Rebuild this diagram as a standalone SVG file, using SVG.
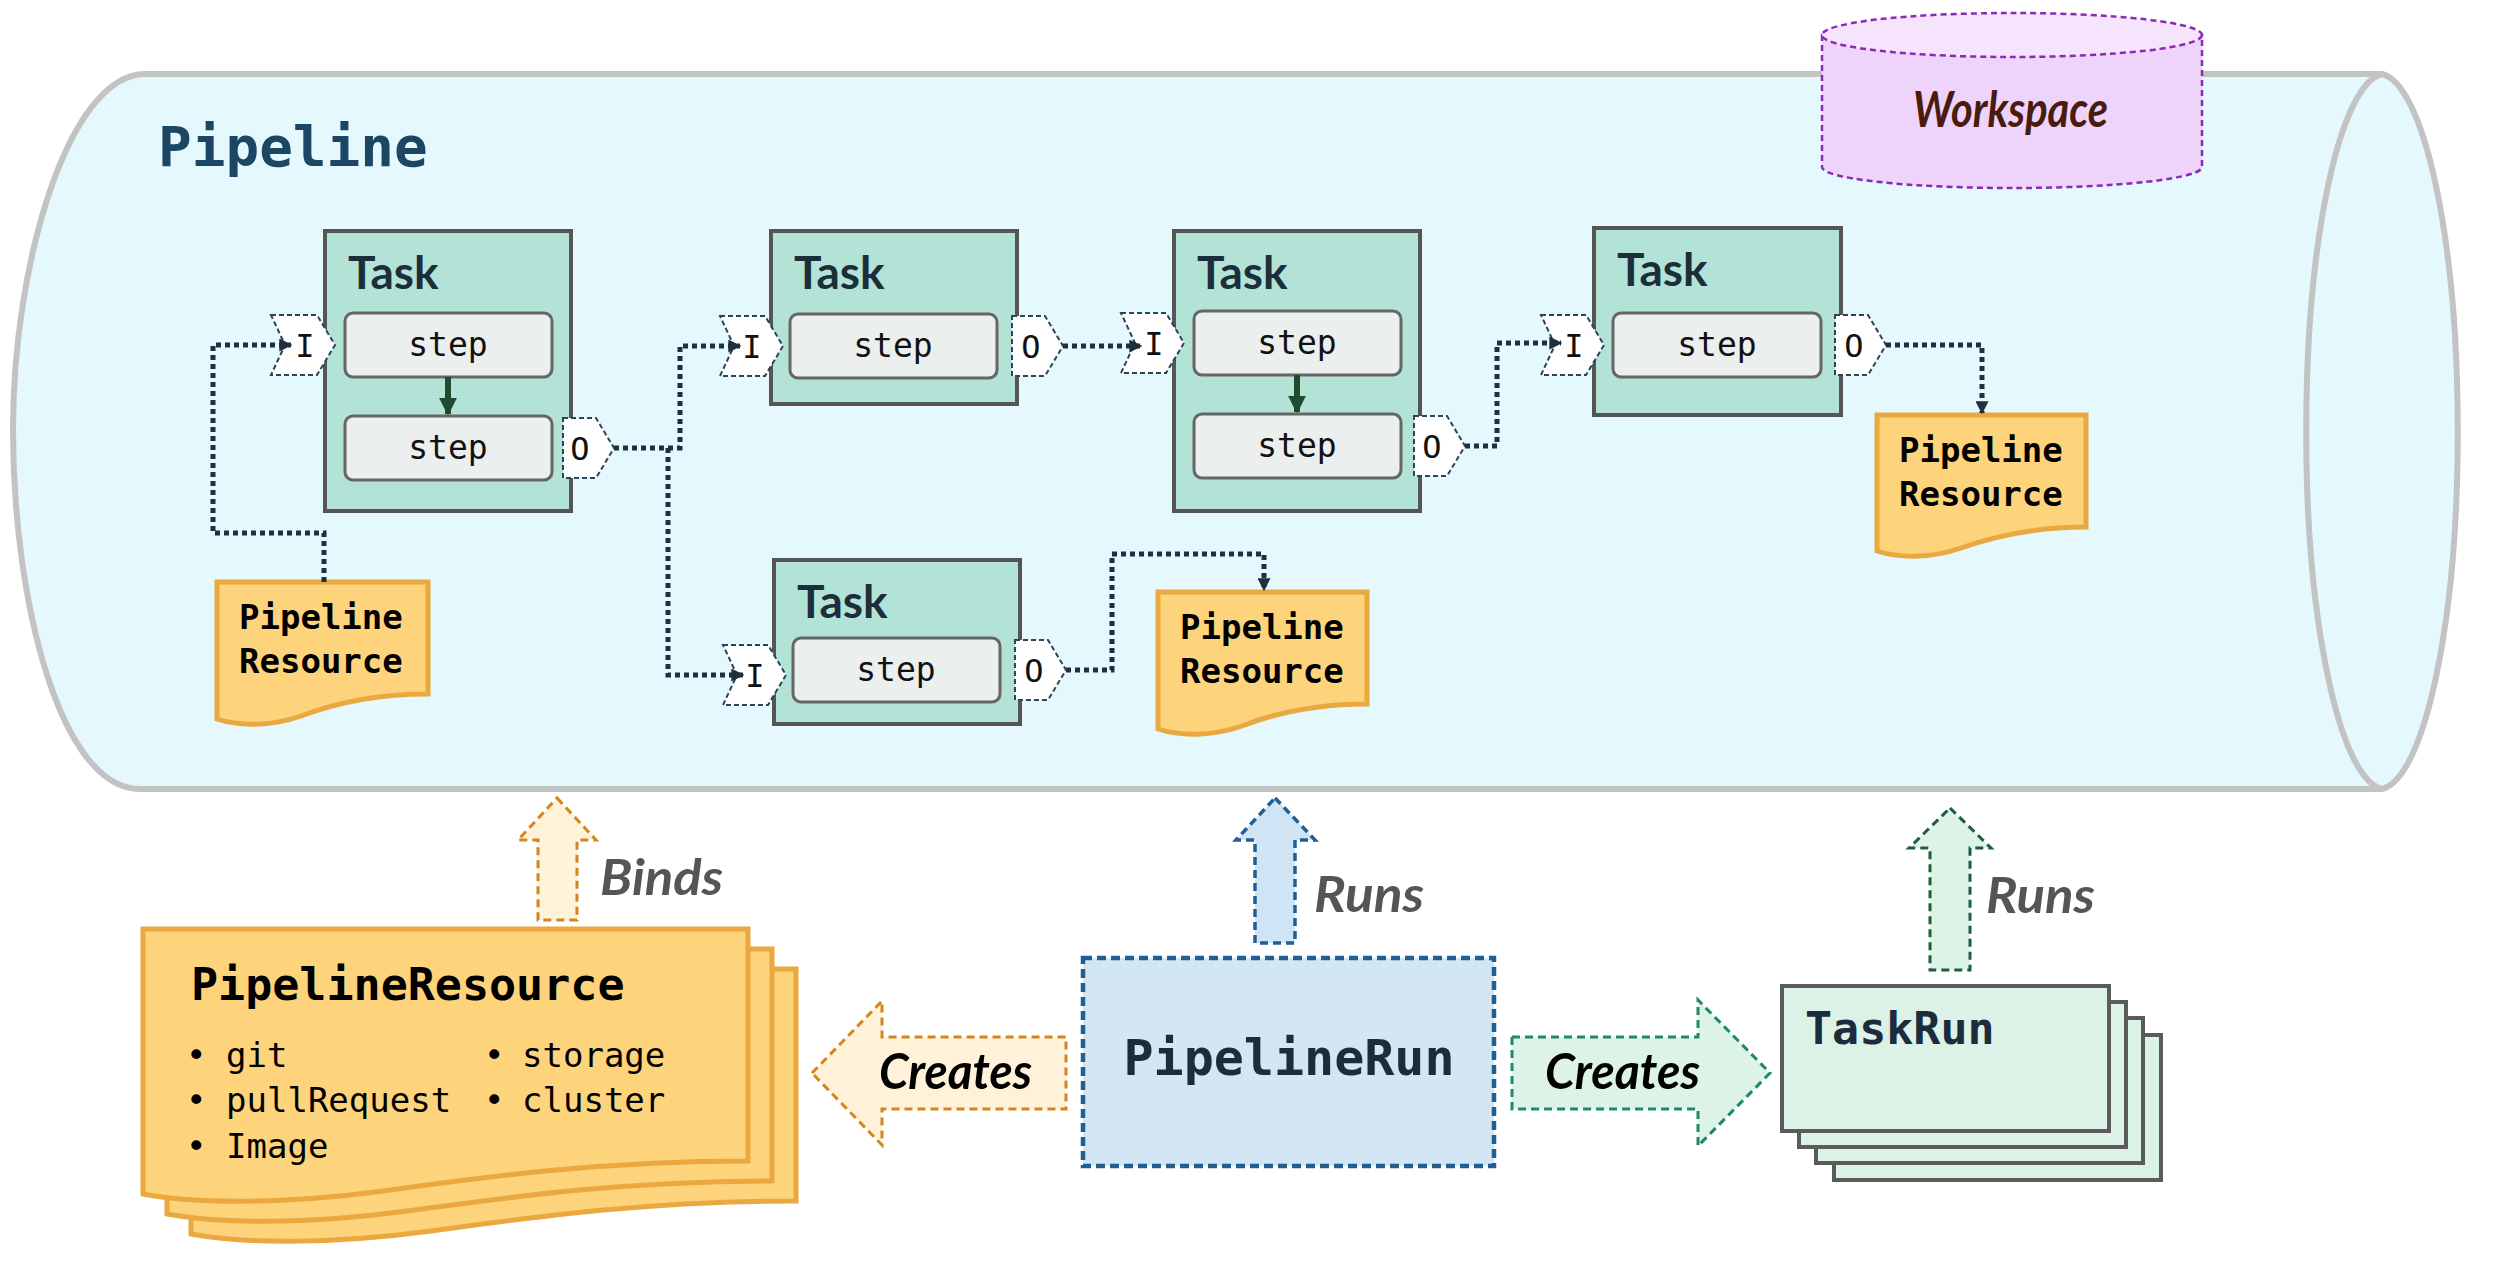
<svg xmlns="http://www.w3.org/2000/svg" width="2502" height="1274" viewBox="0 0 2502 1274">
<defs>
<style>
.mono{font-family:"DejaVu Sans Mono","Liberation Mono",monospace}
.task{fill:#b3e3d6;stroke:#555;stroke-width:4}
.step{fill:#ebefee;stroke:#666;stroke-width:3}
.steptxt{font-family:"DejaVu Sans Mono",monospace;font-size:33px;fill:#111;text-anchor:middle}
.tasklbl{font-family:Lato,"Open Sans",sans-serif;font-weight:bold;font-size:46px;fill:#1d2e3b}
.port{fill:#fff;stroke:#2c4457;stroke-width:2;stroke-dasharray:5 3}
.porttxt{font-family:"DejaVu Sans Mono",monospace;font-size:32px;fill:#111;text-anchor:middle}
.conn{fill:none;stroke:#1e2f3e;stroke-width:5;stroke-dasharray:5 4}
.pr{fill:#fdd37b;stroke:#e9a840;stroke-width:5}
.prtxt{font-family:"DejaVu Sans Mono",monospace;font-weight:bold;font-size:34px;fill:#000}
.stepArrow{stroke:#1f4a2b;stroke-width:6}
.verb{font-family:Lato,"Open Sans",sans-serif;font-weight:bold;font-style:italic;font-size:50px}
.bullet{font-family:"DejaVu Sans Mono",monospace;font-size:34px;fill:#000}
.tr{fill:#dcf2e6;stroke:#5b5b5b;stroke-width:4}
</style>
<marker id="arr" viewBox="0 0 10 10" refX="9" refY="5" markerWidth="2.6" markerHeight="2.6" orient="auto" markerUnits="strokeWidth">
<path d="M0,0 L10,5 L0,10 z" fill="#1e2f3e"/>
</marker>
<marker id="sarr" viewBox="0 0 10 10" refX="9" refY="5" markerWidth="3" markerHeight="3" orient="auto" markerUnits="strokeWidth">
<path d="M0,0 L10,5 L0,10 z" fill="#1f4a2b"/>
</marker>
</defs>

<rect width="2502" height="1274" fill="#fff"/>

<g id="pipeline">
<path d="M145,74 L2382,74 A80,358 0 0 1 2382,789 L140,789 C60,789 13,600 13,430 C13,260 70,74 145,74 Z" fill="#e4f8fd" stroke="#c3c3c3" stroke-width="6"/>
<path d="M2382,74 A80,358 0 0 0 2382,789" fill="none" stroke="#c3c3c3" stroke-width="6"/>
<text x="158" y="166" class="mono" font-weight="bold" font-size="56" fill="#1b4664">Pipeline</text>
</g>

<g id="workspace">
<path d="M1822,35 V167 A190,21 0 0 0 2202,167 V35 Z" fill="#eed3fa" stroke="#8a2bb8" stroke-width="2.5" stroke-dasharray="6 4"/>
<ellipse cx="2012" cy="35" rx="190" ry="22" fill="#f5e4fc" stroke="#8a2bb8" stroke-width="2.5" stroke-dasharray="6 4"/>
<text x="1913" y="127" class="verb" font-size="42" fill="#4a1c10" textLength="195" lengthAdjust="spacingAndGlyphs">Workspace</text>
</g>

<g id="task1">
<rect class="task" x="325" y="231" width="246" height="280"/>
<text class="tasklbl" x="348" y="289">Task</text>
<rect class="step" x="345" y="313" width="207" height="64" rx="8"/>
<text class="steptxt" x="448" y="356">step</text>
<line class="stepArrow" x1="448" y1="377" x2="448" y2="414" marker-end="url(#sarr)"/>
<rect class="step" x="345" y="416" width="207" height="64" rx="8"/>
<text class="steptxt" x="448" y="459">step</text>
<polygon class="port" points="271,315 317,315 335,345 317,375 271,375 285,345"/>
<text class="porttxt" x="305" y="357">I</text>
<polygon class="port" points="563,418 596,418 614,448 596,478 563,478"/>
<text class="porttxt" x="580" y="460">O</text>
</g>

<g id="task2">
<rect class="task" x="771" y="231" width="246" height="173"/>
<text class="tasklbl" x="794" y="289">Task</text>
<rect class="step" x="790" y="314" width="207" height="64" rx="8"/>
<text class="steptxt" x="893" y="357">step</text>
<polygon class="port" points="720,316 765,316 783,346 765,376 720,376 734,346"/>
<text class="porttxt" x="752" y="358">I</text>
<polygon class="port" points="1012,316 1045,316 1063,346 1045,376 1012,376"/>
<text class="porttxt" x="1031" y="358">O</text>
</g>

<g id="task3">
<rect class="task" x="1174" y="231" width="246" height="280"/>
<text class="tasklbl" x="1197" y="289">Task</text>
<rect class="step" x="1194" y="311" width="207" height="64" rx="8"/>
<text class="steptxt" x="1297" y="354">step</text>
<line class="stepArrow" x1="1297" y1="375" x2="1297" y2="412" marker-end="url(#sarr)"/>
<rect class="step" x="1194" y="414" width="207" height="64" rx="8"/>
<text class="steptxt" x="1297" y="457">step</text>
<polygon class="port" points="1121,313 1166,313 1184,343 1166,373 1121,373 1135,343"/>
<text class="porttxt" x="1154" y="355">I</text>
<polygon class="port" points="1414,416 1447,416 1465,446 1447,476 1414,476"/>
<text class="porttxt" x="1432" y="458">O</text>
</g>

<g id="task4">
<rect class="task" x="1594" y="228" width="247" height="187"/>
<text class="tasklbl" x="1617" y="286">Task</text>
<rect class="step" x="1613" y="313" width="208" height="64" rx="8"/>
<text class="steptxt" x="1717" y="356">step</text>
<polygon class="port" points="1541,315 1586,315 1604,345 1586,375 1541,375 1555,345"/>
<text class="porttxt" x="1574" y="357">I</text>
<polygon class="port" points="1835,315 1868,315 1886,345 1868,375 1835,375"/>
<text class="porttxt" x="1854" y="357">O</text>
</g>

<g id="task5">
<rect class="task" x="774" y="560" width="246" height="164"/>
<text class="tasklbl" x="797" y="618">Task</text>
<rect class="step" x="793" y="638" width="207" height="64" rx="8"/>
<text class="steptxt" x="896" y="681">step</text>
<polygon class="port" points="723,645 768,645 786,675 768,705 723,705 737,675"/>
<text class="porttxt" x="755" y="687">I</text>
<polygon class="port" points="1015,640 1048,640 1066,670 1048,700 1015,700"/>
<text class="porttxt" x="1034" y="682">O</text>
</g>

<g id="res-left">
<path class="pr" d="M217,582 H428 V694 C375,694 333,704 301,716 C270,727 238,726 217,719 Z"/>
<text class="prtxt" x="239" y="629">Pipeline</text>
<text class="prtxt" x="239" y="673">Resource</text>
</g>

<g id="res-middle">
<path class="pr" d="M1158,592 H1367 V704 C1315,704 1273,714 1242,726 C1210,737 1179,736 1158,729 Z"/>
<text class="prtxt" x="1180" y="639">Pipeline</text>
<text class="prtxt" x="1180" y="683">Resource</text>
</g>

<g id="res-right">
<path class="pr" d="M1877,415 H2086 V527 C2034,527 1992,537 1961,548 C1929,559 1898,558 1877,551 Z"/>
<text class="prtxt" x="1899" y="462">Pipeline</text>
<text class="prtxt" x="1899" y="506">Resource</text>
</g>

<g id="connectors">
<path class="conn" d="M324,582 V533 H213 V345 H291" marker-end="url(#arr)"/>
<path class="conn" d="M614,448 H680 V346 H740" marker-end="url(#arr)"/>
<path class="conn" d="M668,448 V675 H743" marker-end="url(#arr)"/>
<path class="conn" d="M1063,346 H1141" marker-end="url(#arr)"/>
<path class="conn" d="M1465,446 H1497 V343 H1561" marker-end="url(#arr)"/>
<path class="conn" d="M1886,345 H1982 V413" marker-end="url(#arr)"/>
<path class="conn" d="M1066,670 H1112 V554 H1264 V590" marker-end="url(#arr)"/>
</g>

<g id="binds">
<polygon points="557,798 596,840 577,840 577,920 538,920 538,840 518,840" fill="#fff3da" stroke="#d4861c" stroke-width="3" stroke-dasharray="8 5"/>
<text class="verb" x="600" y="895" fill="#555" textLength="123" lengthAdjust="spacingAndGlyphs">Binds</text>
</g>

<g id="pipelineresource">
<path class="pr" d="M191,969 H796 V1201 C641,1201 521,1219 431,1231 C341,1243 251,1245 191,1234 Z"/>
<path class="pr" d="M167,949 H772 V1181 C617,1181 497,1199 407,1211 C317,1223 227,1225 167,1214 Z"/>
<path class="pr" d="M143,929 H748 V1161 C593,1161 473,1179 383,1191 C293,1203 203,1205 143,1194 Z"/>
<text class="mono" x="191" y="1000" font-weight="bold" font-size="45" fill="#000">PipelineResource</text>
<text class="bullet" y="1067"><tspan x="186">•</tspan><tspan x="226">git</tspan></text>
<text class="bullet" y="1112"><tspan x="186">•</tspan><tspan x="226">pullRequest</tspan></text>
<text class="bullet" y="1158"><tspan x="186">•</tspan><tspan x="226">Image</tspan></text>
<text class="bullet" y="1067"><tspan x="484">•</tspan><tspan x="522">storage</tspan></text>
<text class="bullet" y="1112"><tspan x="484">•</tspan><tspan x="522">cluster</tspan></text>
</g>

<g id="creates-left">
<polygon points="812,1073 882,1001 882,1037 1066,1037 1066,1109 882,1109 882,1145" fill="#fff2d8" stroke="#d4861c" stroke-width="3" stroke-dasharray="8 5"/>
<text class="verb" x="879" y="1089" fill="#000" textLength="153" lengthAdjust="spacingAndGlyphs">Creates</text>
</g>

<g id="pipelinerun">
<rect x="1083" y="958" width="411" height="208" fill="#d2e6f4" stroke="#1f5f96" stroke-width="4.5" stroke-dasharray="9 5"/>
<text class="mono" x="1289" y="1075" font-weight="bold" font-size="50" fill="#1b2d3c" text-anchor="middle">PipelineRun</text>
</g>

<g id="runs-pipeline">
<polygon points="1275,798 1315,840 1295,840 1295,943 1255,943 1255,840 1236,840" fill="#cfe4f4" stroke="#1f5f96" stroke-width="3.5" stroke-dasharray="8 5"/>
<text class="verb" x="1314" y="912" fill="#555" textLength="110" lengthAdjust="spacingAndGlyphs">Runs</text>
</g>

<g id="creates-right">
<polygon points="1512,1037 1698,1037 1698,1000 1770,1073 1698,1146 1698,1109 1512,1109" fill="#dcf3e6" stroke="#1f8a6a" stroke-width="3" stroke-dasharray="8 5"/>
<text class="verb" x="1545" y="1089" fill="#000" textLength="155" lengthAdjust="spacingAndGlyphs">Creates</text>
</g>

<g id="runs-task">
<polygon points="1950,808 1991,848 1970,848 1970,970 1930,970 1930,848 1909,848" fill="#dcf3e6" stroke="#1e5e40" stroke-width="3" stroke-dasharray="8 5"/>
<text class="verb" x="1986" y="913" fill="#555" textLength="109" lengthAdjust="spacingAndGlyphs">Runs</text>
</g>

<g id="taskrun">
<rect class="tr" x="1834" y="1035" width="327" height="145"/>
<rect class="tr" x="1816" y="1018" width="327" height="145"/>
<rect class="tr" x="1799" y="1002" width="327" height="145"/>
<rect class="tr" x="1782" y="986" width="327" height="145"/>
<text class="mono" x="1805" y="1044" font-weight="bold" font-size="45" fill="#1b2d3c">TaskRun</text>
</g>
</svg>
